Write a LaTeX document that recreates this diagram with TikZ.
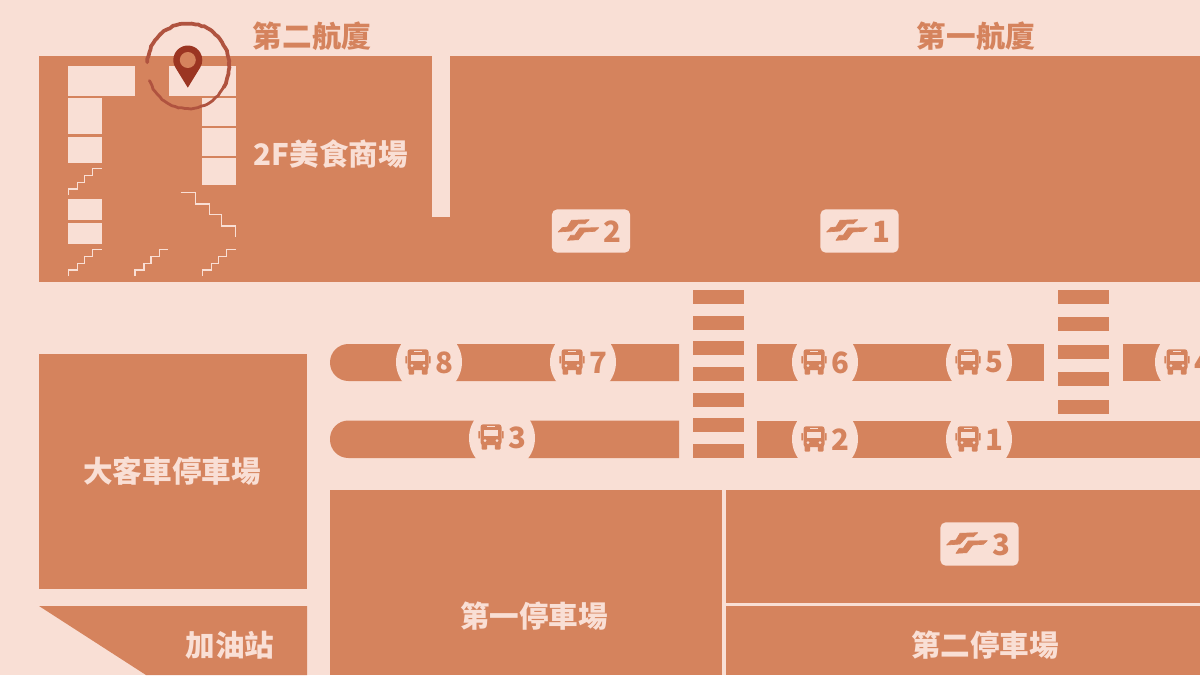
\documentclass[tikz,border=0pt]{standalone}
\usepackage{fontspec}
\usetikzlibrary{decorations.pathmorphing}
\setmainfont{Noto Sans CJK TC}[BoldFont={Noto Sans CJK TC Black}]
\definecolor{mapbg}{HTML}{F9DFD5}
\definecolor{maporange}{HTML}{D5835D}
\definecolor{pinred}{HTML}{9B3522}
\definecolor{ringred}{HTML}{B0533F}
\tikzset{
  block/.style={fill=maporange},
  hole/.style={fill=mapbg},
  stairline/.style={draw=mapbg,line width=0.8pt,fill=none},
  hall/.style={font=\fontsize{22.2pt}{24pt}\selectfont\bfseries,text=maporange,inner sep=0pt},
  area/.style={font=\fontsize{22.2pt}{24pt}\selectfont\bfseries,text=mapbg,inner sep=0pt},
  num/.style={font=\fontsize{22pt}{24pt}\selectfont\bfseries,text=maporange,inner sep=0pt},
  stopdot/.style={circle,fill=mapbg,minimum size=49.5pt,inner sep=0pt},
  railbadge/.style={fill=mapbg,rounded corners=4pt,minimum width=58.7pt,minimum height=32.5pt,inner sep=0pt},
  ringline/.style={draw=ringred,line cap=round,decorate,decoration={random steps,segment length=2.5pt,amplitude=0.4pt}},
  logoline/.style={fill=maporange,draw=maporange,line width=0.5pt,line join=round},
  stairs/.pic={
    \draw[stairline] (0,0) -- (0,-6) -- (9,-6) -- (9,-12.7) -- (16,-12.7) -- (16,-19.3) -- (24.4,-19.3) -- (24.4,-26.3) -- (33.4,-26.3);
  },
  raillogo/.pic={
    \filldraw[logoline] (-32.8,1) -- (-19.5,0) -- (-12.8,-7.3) -- (-6.2,-7.3) -- (-1.8,-11.3) -- (-19.5,-10.7) -- (-23.5,-4) -- (-28.8,-3.3) -- cycle;
    \filldraw[logoline] (-23.5,9.3) -- (-12.8,8.7) -- (-6.8,1) -- (3.8,0.3) -- (7.8,-3.3) -- (-11.2,-3) -- (-16.2,4.3) -- (-20.2,4.3) -- cycle;
  },
  busicon/.pic={
    \fill[block,rounded corners=2pt] (-10.5,-12.7) rectangle (10.5,8);
    \fill[block,rounded corners=0.8pt] (-9.5,5) rectangle (-3.8,12.7);
    \fill[block,rounded corners=0.8pt] (3.8,5) rectangle (9.5,12.7);
    \fill[block,rounded corners=0.5pt] (-12.7,-6) rectangle (-11,1.5);
    \fill[block,rounded corners=0.5pt] (11,-6) rectangle (12.7,1.5);
    \fill[hole] (-6.6,-7) rectangle (6.6,-0.8);
    \fill[hole] (-3.6,-11) rectangle (3.6,-9.8);
    \fill[hole] (-6,3.7) circle (1.5);
    \fill[hole] (6,3.7) circle (1.5);
  }
}
\begin{document}
\begin{tikzpicture}[x=0.75pt,y=-0.75pt]
\useasboundingbox (0,0) rectangle (1200,675);
\clip (0,0) rectangle (1200,675);
\fill[hole] (0,0) rectangle (1200,675);
% terminal
\fill[block] (39,56) rectangle (1200,282);
\fill[hole] (432,56) rectangle (450,217);
\fill[hole] (68,66) rectangle (135,96);
\fill[hole] (169,66) rectangle (236,96);
\fill[hole] (68,98) rectangle (102,134);
\fill[hole] (68,136.5) rectangle (102,163);
\fill[hole] (202,98) rectangle (236,125.5);
\fill[hole] (202,128) rectangle (236,155.5);
\fill[hole] (202,157.5) rectangle (236,185);
\fill[hole] (68,198.5) rectangle (102,220);
\fill[hole] (68,222.5) rectangle (102,243.5);
\pic at (68.3,195) {stairs};
\pic at (68.3,276) {stairs};
\pic at (135,276) {stairs};
\pic at (202.3,276) {stairs};
\draw[stairline] (180.7,192.3) -- (195.7,192.3) -- (195.7,204) -- (209.3,204) -- (209.3,214.7) -- (221.3,214.7) -- (221.3,226) -- (235.7,226) -- (235.7,236.7);
% parking and gas station
\fill[block] (39,354) rectangle (307,589);
\fill[block] (39,606) -- (307,606) -- (307,675) -- (146,675) -- cycle;
\fill[block] (330,490) rectangle (722,675);
\fill[block] (726,490) rectangle (1200,603);
\fill[block] (726,606) rectangle (1200,675);
% roads
\fill[block,rounded corners=13.8pt] (679,381) -- (330,381) -- (330,344) -- (679,344);
\fill[block,rounded corners=13.8pt] (679,458) -- (330,458) -- (330,420.5) -- (679,420.5);
\fill[block] (757,344) rectangle (1044,381);
\fill[block] (1122.7,344) rectangle (1200,381);
\fill[block] (757,420.5) rectangle (1200,458);
% crosswalks
\fill[block] (693,290) rectangle (744,304);
\fill[block] (693,316) rectangle (744,330);
\fill[block] (693,341) rectangle (744,355);
\fill[block] (693,367) rectangle (744,381);
\fill[block] (693,392.5) rectangle (744,407);
\fill[block] (693,418) rectangle (744,432);
\fill[block] (693,444) rectangle (744,458);
\fill[block] (1058,290) rectangle (1109,304);
\fill[block] (1058,317) rectangle (1109,331);
\fill[block] (1058,345) rectangle (1109,359);
\fill[block] (1058,372.3) rectangle (1109,386);
\fill[block] (1058,400) rectangle (1109,414);
% bus stops
\node[stopdot] (stop8) at (429,362) {};
\node[stopdot] (stop7) at (583,362) {};
\node[stopdot] (stop6) at (825,362) {};
\node[stopdot] (stop5) at (979,362) {};
\node[stopdot] (stop4) at (1188,362) {};
\node[stopdot] (stop3) at (502,438) {};
\node[stopdot] (stop2) at (825,439) {};
\node[stopdot] (stop1) at (979,439) {};
\pic at (418,362) {busicon};
\pic at (572,362) {busicon};
\pic at (814,362) {busicon};
\pic at (968,362) {busicon};
\pic at (1177,362) {busicon};
\pic at (491,437) {busicon};
\pic at (814,439) {busicon};
\pic at (968,439) {busicon};
\node[num] (num8) at (444,362.5) {8};
\node[num] (num7) at (598,362.5) {7};
\node[num] (num6) at (840,362.5) {6};
\node[num] (num5) at (994,362.5) {5};
\node[num] (num4) at (1203,362.5) {4};
\node[num] (num3) at (517,437.5) {3};
\node[num] (num2) at (840,439.5) {2};
\node[num] (num1) at (994,439.5) {1};
% rail badges
\node[railbadge] (rail2) at (591,231) {};
\node[railbadge] (rail1) at (859.5,231) {};
\node[railbadge] (rail3) at (979.5,544) {};
\pic at (591,231) {raillogo};
\pic at (859.5,231) {raillogo};
\pic at (979.5,544) {raillogo};
\node[num] (railnum2) at (612.5,231.5) {2};
\node[num] (railnum1) at (881,231.5) {1};
\node[num] (railnum3) at (1001,544.5) {3};
% labels
\node[hall] (t2) at (312,36) {第二航廈};
\node[hall] (t1) at (976,36) {第一航廈};
\node[area] (food) at (331,154) {2F美食商場};
\node[area] (bigbus) at (172,471) {大客車停車場};
\node[area] (gas) at (230,645) {加油站};
\node[area] (park1) at (534,616) {第一停車場};
\node[area] (park2) at (985,645) {第二停車場};
% location pin
\draw[ringline,line width=2.8pt] (147.2,62.3) arc[start angle=-175,end angle=30,x radius=41,y radius=42.5];
\draw[ringline,line width=2.1pt] (223.5,87.25) arc[start angle=30,end angle=160,x radius=41,y radius=42.5];
\fill[pinred] (187.8,87.7) -- (175.45,67.6) arc[start angle=148.4,end angle=391.6,radius=14.5] -- cycle;
\fill[block] (187.8,60) circle (8);
\end{tikzpicture}
\end{document}
